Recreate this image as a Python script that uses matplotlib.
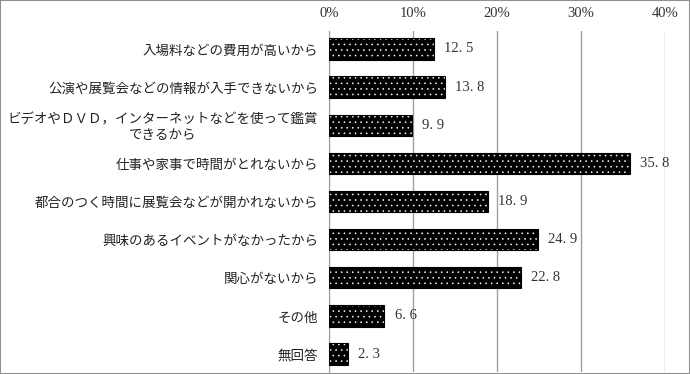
import matplotlib.pyplot as plt
import numpy as np

reasons = [
    "入場料などの費用が高いから",
    "公演や展覧会などの情報が入手できないから",
    "ビデオやＤＶＤ，インターネットなどを使って鑑賞\nできるから",
    "仕事や家事で時間がとれないから",
    "都合のつく時間に展覧会などが開かれないから",
    "興味のあるイベントがなかったから",
    "関心がないから",
    "その他",
    "無回答",
]
percents = [12.5, 13.8, 9.9, 35.8, 18.9, 24.9, 22.8, 6.6, 2.3]
xticks = [0, 10, 20, 30, 40]

plt.rcParams['font.family'] = ['Noto Sans CJK JP', 'DejaVu Sans']
plt.rcParams['hatch.linewidth'] = 0.4

fig = plt.figure(figsize=(6.9, 3.74), dpi=100)
ax = fig.add_axes([329 / 690, 1 - 372 / 374, 336 / 690, 341 / 374])

y = np.arange(len(reasons))
ax.barh(y, percents, height=0.56, color="black", edgecolor="white", hatch="...", linewidth=0, zorder=3)
ax.barh(y, percents, height=0.56, fill=False, edgecolor="black", linewidth=0.8, zorder=4)

for yi, v in zip(y, percents):
    ax.text(v + 1.2, yi, f"{v:.1f}".replace(".", ". "), va="center", ha="left",
            fontsize=10.5, family="Liberation Serif", color="#333333")

ax.set_xlim(0, 40)
ax.set_ylim(8.47, -0.47)
ax.set_xticks(xticks)
ax.set_xticklabels([f"{t}%" for t in xticks], family="Liberation Serif", fontsize=10.5, color="#333333")
ax.xaxis.tick_top()
ax.tick_params(axis="x", length=0, pad=8)
ax.set_yticks(y)
ax.set_yticklabels(reasons, fontsize=9.7, multialignment="center", linespacing=1.1, color="#222222")
ax.tick_params(axis="y", length=0, pad=8)
ax.grid(axis="x", color="#a0a0a0", linewidth=1, zorder=0)
for s in ["top", "bottom", "right"]:
    ax.spines[s].set_visible(False)
ax.spines["left"].set_color("#a0a0a0")

fig.patches.append(plt.Rectangle((0, 0), 1, 1, transform=fig.transFigure, fill=False,
                                 edgecolor="#909090", linewidth=1.5))

fig.savefig("out.png", dpi=100)
